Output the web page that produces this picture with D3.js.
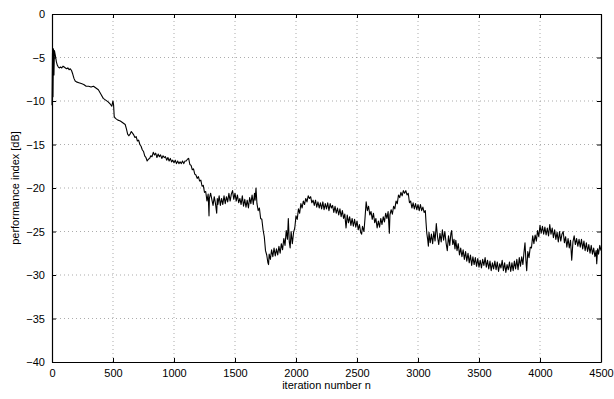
<!DOCTYPE html>
<html>
<head>
<meta charset="utf-8">
<script src="https://cdn.jsdelivr.net/npm/d3@7/dist/d3.min.js"></script>
<style>
html,body{margin:0;padding:0;background:#fff;}
svg{display:block;}
text{font-family:"Liberation Sans",Arial,Helvetica,sans-serif;}
</style>
</head>
<body>
<svg id="chart" width="614" height="399"></svg>
<script>
const xTicks = [0,500,1000,1500,2000,2500,3000,3500,4000,4500];
const yTicks = [0,-5,-10,-15,-20,-25,-30,-35,-40];
const xLabel = "iteration number n";
const yLabel = "performance index [dB]";

// [iteration, performance index in dB]
const performanceIndex = [
[0,-10.5],[4,-4.5],[8,-9.5],[12,-4.0],[16,-7.0],[20,-4.2],[28,-4.8],[36,-5.5],[44,-5.9],[52,-6.1],[60,-6.2],[70,-6.1],[80,-6.2],[90,-6.0],
[100,-6.1],[110,-6.2],[120,-6.3],[130,-6.2],[140,-6.4],[150,-6.3],[160,-6.5],[170,-6.9],[180,-7.4],[190,-7.7],[200,-7.8],
[220,-7.9],[240,-8.0],[260,-8.1],[280,-8.3],[300,-8.3],[320,-8.4],[340,-8.3],[360,-8.5],[380,-8.7],[400,-9.2],[420,-9.7],[440,-9.9],
[460,-10.1],[480,-10.4],[490,-10.6],[500,-10.0],[505,-10.5],[510,-11.8],[520,-12.0],[540,-12.2],[560,-12.3],[580,-12.5],
[600,-12.7],[610,-13.2],[620,-13.8],[630,-14.0],[640,-13.8],[650,-13.5],[660,-13.7],[670,-13.9],[680,-14.2],[690,-14.1],
[700,-14.6],[710,-14.5],[720,-15.0],[730,-15.2],[740,-15.6],[750,-15.8],[760,-16.3],[770,-16.5],[780,-16.9],[790,-16.7],
[800,-16.6],[810,-16.3],[820,-16.4],[830,-15.9],[840,-16.2],[850,-16.0],[860,-16.5],[870,-16.1],[880,-16.4],[890,-16.2],
[900,-16.6],[910,-16.3],[920,-16.5],[930,-16.4],[940,-16.8],[950,-16.5],[960,-16.9],[970,-16.6],[980,-17.0],[990,-16.8],
[1000,-17.1],[1010,-16.8],[1020,-17.2],[1030,-16.9],[1040,-17.2],[1050,-17.0],[1060,-17.2],[1070,-16.9],[1080,-17.2],[1090,-16.9],
[1100,-16.9],[1110,-16.7],[1120,-16.6],[1130,-17.3],[1140,-17.4],[1150,-17.9],[1160,-17.8],[1170,-18.4],[1180,-18.5],[1190,-18.9],
[1200,-18.7],[1210,-19.2],[1220,-19.1],[1230,-19.8],[1240,-19.7],[1250,-20.5],[1260,-20.4],[1270,-21.5],[1280,-20.7],[1287,-23.2],
[1290,-21.2],[1300,-20.6],[1310,-21.3],[1320,-22.0],[1330,-21.0],[1340,-21.8],[1350,-22.9],[1355,-21.2],[1360,-21.9],[1370,-20.9],
[1380,-22.0],[1390,-21.2],[1400,-21.9],[1410,-20.9],[1420,-21.8],[1430,-21.0],[1440,-21.6],[1450,-20.6],[1460,-21.5],[1470,-20.7],
[1480,-20.3],[1490,-21.3],[1500,-20.6],[1510,-21.5],[1520,-20.8],[1530,-21.7],[1540,-21.2],[1550,-21.9],[1560,-20.9],[1570,-22.1],
[1580,-21.3],[1590,-22.2],[1600,-21.4],[1610,-22.3],[1620,-21.1],[1630,-21.8],[1640,-20.8],[1650,-21.9],[1660,-20.6],[1665,-21.4],
[1672,-20.0],[1680,-21.8],[1690,-22.6],[1700,-22.3],[1710,-23.5],[1720,-23.6],[1730,-24.8],[1740,-25.6],[1750,-27.2],[1760,-27.7],
[1770,-28.6],[1775,-28.8],[1780,-27.6],[1790,-28.2],[1800,-27.1],[1810,-27.9],[1820,-26.9],[1830,-27.8],[1840,-27.0],[1850,-27.7],
[1860,-26.7],[1870,-27.5],[1880,-26.4],[1890,-27.1],[1900,-25.8],[1910,-26.6],[1920,-24.9],[1930,-25.9],[1937,-23.5],[1945,-26.2],
[1952,-26.9],[1960,-25.0],[1970,-26.4],[1980,-25.1],[1990,-24.6],[2000,-23.2],[2010,-23.6],[2020,-22.4],[2030,-22.9],[2040,-21.8],
[2050,-22.3],[2060,-21.5],[2070,-21.9],[2080,-21.2],[2090,-21.6],[2100,-20.9],[2110,-21.2],[2120,-21.0],[2130,-21.7],[2140,-21.4],
[2150,-22.0],[2160,-21.4],[2170,-22.2],[2180,-21.6],[2190,-22.3],[2200,-21.7],[2210,-22.4],[2220,-21.6],[2230,-22.5],[2240,-21.8],
[2250,-22.4],[2260,-21.7],[2270,-22.6],[2280,-21.8],[2290,-22.3],[2300,-22.0],[2310,-22.8],[2320,-22.1],[2330,-22.9],[2340,-22.3],
[2350,-23.1],[2360,-22.4],[2370,-23.3],[2380,-22.6],[2390,-23.5],[2400,-23.0],[2410,-24.6],[2420,-23.1],[2430,-24.0],[2440,-23.3],
[2450,-24.3],[2460,-23.5],[2470,-24.4],[2480,-23.6],[2490,-24.5],[2500,-23.8],[2510,-24.8],[2520,-24.2],[2530,-25.1],[2538,-25.3],
[2545,-24.4],[2557,-25.0],[2565,-23.6],[2575,-21.6],[2585,-22.6],[2595,-22.1],[2605,-23.1],[2615,-22.7],[2625,-23.6],[2635,-22.9],
[2645,-24.0],[2655,-23.5],[2665,-24.6],[2675,-23.8],[2685,-24.5],[2695,-23.5],[2705,-24.2],[2715,-23.3],[2725,-23.9],[2735,-22.9],
[2745,-23.5],[2755,-22.7],[2765,-25.2],[2770,-23.1],[2780,-22.5],[2790,-23.0],[2800,-22.1],[2810,-22.4],[2820,-21.5],[2830,-21.8],
[2840,-20.8],[2850,-21.1],[2860,-20.5],[2870,-20.9],[2880,-20.3],[2890,-20.6],[2900,-20.3],[2910,-20.8],[2920,-20.6],[2930,-21.7],
[2940,-21.5],[2950,-22.3],[2960,-21.7],[2970,-22.4],[2980,-21.8],[2990,-22.5],[3000,-21.9],[3010,-22.6],[3020,-21.9],[3030,-22.6],
[3040,-22.2],[3050,-22.8],[3060,-22.6],[3066,-24.0],[3072,-25.2],[3080,-26.0],[3085,-26.7],[3090,-25.1],[3100,-26.3],[3110,-25.3],
[3120,-26.4],[3130,-25.0],[3140,-26.1],[3150,-24.1],[3160,-25.6],[3170,-26.5],[3180,-25.2],[3190,-26.2],[3200,-24.8],[3210,-26.0],
[3220,-25.0],[3230,-26.3],[3240,-27.2],[3250,-25.5],[3260,-26.6],[3270,-25.2],[3276,-24.9],[3285,-26.5],[3295,-25.9],[3303,-27.0],
[3310,-26.0],[3320,-27.2],[3330,-26.4],[3340,-27.7],[3350,-26.9],[3360,-27.9],[3370,-27.1],[3380,-28.2],[3390,-27.3],[3400,-28.4],
[3410,-27.5],[3420,-28.6],[3430,-27.7],[3440,-28.9],[3450,-27.9],[3460,-28.8],[3470,-28.0],[3480,-29.0],[3490,-28.1],[3500,-29.1],
[3510,-28.3],[3520,-29.2],[3530,-28.2],[3540,-28.9],[3550,-28.0],[3560,-29.1],[3570,-28.3],[3580,-29.3],[3590,-28.4],[3600,-29.5],
[3610,-28.6],[3620,-29.3],[3630,-28.4],[3640,-29.4],[3650,-28.5],[3660,-29.6],[3670,-28.7],[3680,-29.2],[3690,-28.3],[3700,-29.5],
[3710,-28.6],[3720,-29.7],[3730,-28.8],[3740,-29.4],[3750,-28.5],[3760,-29.6],[3770,-28.6],[3780,-29.5],[3790,-28.4],[3800,-29.3],
[3810,-28.2],[3820,-29.4],[3830,-28.0],[3840,-29.0],[3850,-27.9],[3860,-28.8],[3868,-27.5],[3877,-26.3],[3884,-28.2],[3891,-29.5],
[3900,-27.3],[3910,-28.0],[3920,-26.8],[3930,-26.9],[3940,-25.5],[3950,-26.4],[3960,-25.4],[3970,-26.1],[3980,-24.9],[3990,-25.6],
[4000,-24.3],[4010,-25.2],[4020,-24.4],[4030,-25.3],[4040,-24.5],[4050,-25.4],[4060,-24.6],[4070,-25.5],[4080,-24.2],[4090,-25.3],
[4100,-24.6],[4110,-25.7],[4120,-24.8],[4130,-25.9],[4140,-25.1],[4150,-26.2],[4160,-25.0],[4170,-26.1],[4180,-25.3],[4190,-25.0],
[4200,-26.3],[4210,-25.6],[4220,-26.8],[4230,-25.8],[4240,-26.9],[4250,-26.0],[4260,-28.3],[4270,-26.2],[4280,-25.5],[4290,-26.5],
[4300,-25.8],[4310,-26.7],[4320,-25.9],[4330,-26.8],[4340,-25.9],[4350,-27.0],[4360,-26.1],[4370,-27.2],[4380,-26.3],[4390,-27.3],
[4400,-26.5],[4410,-27.5],[4420,-26.6],[4430,-27.6],[4440,-26.9],[4450,-27.9],[4460,-27.2],[4465,-28.7],[4472,-27.0],[4480,-27.6],
[4490,-26.6],[4500,-27.2]
];

const data = performanceIndex.map(p => ({n: p[0], v: p[1]}));

const svg = d3.select("#chart");
const margin = {left: 52, right: 13, top: 14, bottom: 37};
const W = 614, H = 399;
const x = d3.scaleLinear().domain([0, 4500]).range([margin.left, W - margin.right]);
const y = d3.scaleLinear().domain([-40, 0]).range([H - margin.bottom, margin.top]);

const fmt = d => d < 0 ? "\u2212" + Math.abs(d) : String(d);

// grid
const grid = svg.append("g");
grid.selectAll("line.gx").data(xTicks.slice(1, -1)).enter().append("line")
  .attr("x1", d => x(d)).attr("x2", d => x(d))
  .attr("y1", y(-40)).attr("y2", y(0))
  .attr("stroke", "#888").attr("stroke-width", 0.7).attr("stroke-dasharray", "1,3");
grid.selectAll("line.gy").data(yTicks.slice(1, -1)).enter().append("line")
  .attr("y1", d => y(d)).attr("y2", d => y(d))
  .attr("x1", x(0)).attr("x2", x(4500))
  .attr("stroke", "#888").attr("stroke-width", 0.7).attr("stroke-dasharray", "1,3");

// line
svg.append("path").datum(data)
  .attr("fill", "none").attr("stroke", "#000").attr("stroke-width", 1.1)
  .attr("stroke-linejoin", "round")
  .attr("d", d3.line().x(d => x(d.n)).y(d => y(d.v)));

// axes
const axB = d3.axisBottom(x).tickValues(xTicks).tickFormat(fmt).tickSizeInner(-4).tickSizeOuter(0).tickPadding(7);
const axT = d3.axisTop(x).tickValues(xTicks).tickFormat("").tickSizeInner(-4).tickSizeOuter(0);
const axL = d3.axisLeft(y).tickValues(yTicks).tickFormat(fmt).tickSizeInner(-4).tickSizeOuter(0).tickPadding(7);
const axR = d3.axisRight(y).tickValues(yTicks).tickFormat("").tickSizeInner(-4).tickSizeOuter(0);

function style(g){
  g.select(".domain").attr("stroke", "#000").attr("stroke-width", 1.2);
  g.selectAll(".tick line").attr("stroke", "#000").attr("stroke-width", 1);
  g.selectAll("text").attr("fill", "#000").style("font-size", "11px");
}
svg.append("g").attr("transform", `translate(0,${y(-40)})`).call(axB).call(style);
svg.append("g").attr("transform", `translate(0,${y(0)})`).call(axT).call(style);
svg.append("g").attr("transform", `translate(${x(0)},0)`).call(axL).call(style);
svg.append("g").attr("transform", `translate(${x(4500)},0)`).call(axR).call(style);

// labels
svg.append("text").attr("x", (x(0) + x(4500)) / 2).attr("y", 389)
  .attr("text-anchor", "middle").style("font-size", "11px").text(xLabel);
svg.append("text").attr("transform", `translate(19,${(y(0) + y(-40)) / 2}) rotate(-90)`)
  .attr("text-anchor", "middle").style("font-size", "11px").text(yLabel);
</script>
</body>
</html>
